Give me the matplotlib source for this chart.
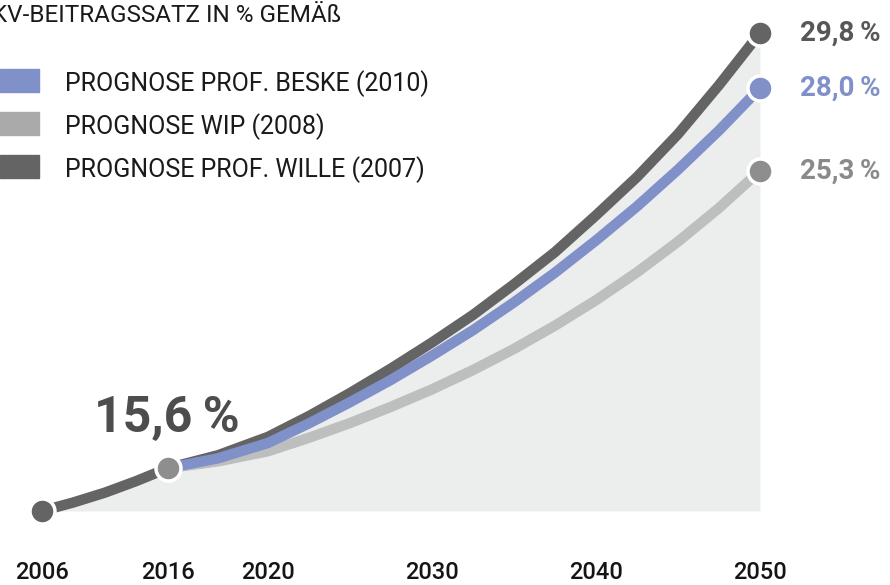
import numpy as np
import matplotlib.pyplot as plt

# Werte (KV-Beitragssatz in %)
jahre_basis = [2006, 2008.5, 2011, 2013.5, 2016]
basis = [14.2, 14.48, 14.8, 15.18, 15.6]
jahre = [2016, 2018, 2020, 2022.5, 2025, 2027.5, 2030, 2032.5, 2035,
         2037.5, 2040, 2042.5, 2045, 2047.5, 2050]
wille = [15.6, 16.02, 16.62, 17.3, 18.05, 18.85, 19.7, 20.6, 21.6,
         22.65, 23.85, 25.1, 26.5, 28.1, 29.8]
beske = [15.6, 15.92, 16.42, 17.06, 17.75, 18.48, 19.27, 20.1, 21.01,
         21.98, 23.03, 24.14, 25.34, 26.62, 28.0]
wip = [15.6, 15.82, 16.15, 16.59, 17.07, 17.6, 18.17, 18.8, 19.49,
       20.25, 21.08, 21.99, 22.99, 24.09, 25.3]
tick_jahre = [2006, 2016, 2020, 2030, 2040, 2050]
legende = ['PROGNOSE PROF. BESKE (2010)', 'PROGNOSE WIP (2008)', 'PROGNOSE PROF. WILLE (2007)']
endwerte = ['29,8\u2009%', '28,0\u2009%', '25,3\u2009%']

# Farben
DUNKEL = '#646464'
BLAU = '#8090c8'
HELL = '#bdbfbe'
PUNKT_GRAU = '#8e8e8e'
FLAECHE = '#eceeee'

plt.rcParams['font.family'] = ['Roboto', 'DejaVu Sans']

W, H = 890, 585
fig = plt.figure(figsize=(W / 100, H / 100), dpi=100)

# x-Achse ist in der Vorlage nicht linear (2006-2016 gestaucht)
k_jahre = [2006, 2016, 2020, 2050]
k_pos = [42, 168, 268, 760]
ax = fig.add_axes([42 / W, 74 / H, (760 - 42) / W, (552 - 74) / H])
ax.set_xscale('function', functions=(lambda x: np.interp(x, k_jahre, k_pos),
                                     lambda p: np.interp(p, k_pos, k_jahre)))
ax.set_xlim(2006, 2050)
ax.set_ylim(14.2, 29.8)

# Fläche unter der oberen Kurve
x_fl = jahre_basis + jahre[1:]
y_fl = basis + wille[1:]
ax.fill_between(x_fl, y_fl, 14.2, color=FLAECHE, lw=0, zorder=1, clip_on=False)

lw = 7.5
stil = dict(lw=lw, solid_joinstyle='round', solid_capstyle='butt', clip_on=False)
ax.plot(jahre_basis, basis, color=DUNKEL, zorder=3, **stil)
ax.plot(jahre, wip, color=HELL, zorder=2, **stil)
ax.plot(jahre, wille, color=DUNKEL, zorder=3, **stil)
ax.plot(jahre, beske, color=BLAU, zorder=4, **stil)

punkt = dict(marker='o', markersize=18, markeredgecolor='white', markeredgewidth=2.5,
             linestyle='none', zorder=6, clip_on=False)
ax.plot(jahre_basis[0], basis[0], color=DUNKEL, **punkt)
ax.plot(jahre_basis[-1], basis[-1], color=PUNKT_GRAU, **punkt)
ax.plot(jahre[-1], wille[-1], color=DUNKEL, **punkt)
ax.plot(jahre[-1], beske[-1], color=BLAU, **punkt)
ax.plot(jahre[-1], wip[-1], color=PUNKT_GRAU, **punkt)

ax.set_xticks(tick_jahre)
ax.set_xticklabels([str(j) for j in tick_jahre], fontsize=17, fontweight='medium', color='#151515')
ax.tick_params(axis='x', length=0, pad=36)
ax.set_yticks([])
for s in ax.spines.values():
    s.set_visible(False)
ax.patch.set_alpha(0)


def px(x, y):
    return x / W, 1 - y / H


# Titel ist in der Vorlage links angeschnitten
fig.text(*px(-8, 22), 'KV-BEITRAGSSATZ IN % GEMÄß', fontsize=17.5, color='#1a1a1a', va='baseline')

for i, (lab, farbe) in enumerate(zip(legende, [BLAU, '#aaaaaa', DUNKEL])):
    y0 = 69 + i * 43
    fig.patches.append(plt.Rectangle(px(0, y0 + 23), 39 / W, 23 / H, color=farbe,
                                     transform=fig.transFigure, figure=fig))
    fig.text(*px(65, y0 + 22), lab, fontsize=18, color='#1a1a1a', va='baseline')

for txt, y, farbe in zip(endwerte, [33, 88, 171], ['#575757', BLAU, '#8a8a8a']):
    fig.text(*px(800, y), txt, fontsize=20, fontweight='bold', color=farbe, va='center')

fig.text(*px(94, 432), '15,6\u2009%', fontsize=36, fontweight='bold', color='#4d4d4d', va='baseline')

fig.savefig('out.png', dpi=100)
